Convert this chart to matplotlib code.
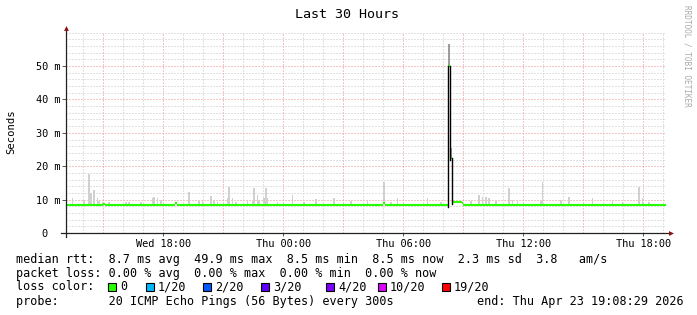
import matplotlib
matplotlib.use("Agg")
import matplotlib.pyplot as plt
import matplotlib.dates as mdates
from matplotlib.patches import Rectangle
import pandas as pd
import numpy as np

# ---------------- data ----------------
start_time = "2026-04-22 13:08:29"
end_time = "2026-04-23 19:08:29"

# median RTT (ms) as step function: value holds from each time to the next
median_times = ["2026-04-22 13:05", "2026-04-22 15:00", "2026-04-22 15:05",
                "2026-04-22 18:35", "2026-04-22 18:40", "2026-04-23 05:00",
                "2026-04-23 05:05", "2026-04-23 08:15", "2026-04-23 08:20",
                "2026-04-23 08:25", "2026-04-23 08:55", "2026-04-23 09:00"]
median_ms = [8.5, 8.8, 8.5, 9.0, 8.5, 8.9, 8.5, 49.9, 22.5, 9.2, 8.9, 8.5]

# smoke (max ping, ms) spikes
smoke_times = ["2026-04-22 13:25", "2026-04-22 14:00", "2026-04-22 14:15", "2026-04-22 14:20",
               "2026-04-22 14:30", "2026-04-22 14:40", "2026-04-22 14:45", "2026-04-22 14:55",
               "2026-04-22 15:15", "2026-04-22 16:05", "2026-04-22 16:15", "2026-04-22 16:50",
               "2026-04-22 17:25", "2026-04-22 17:30", "2026-04-22 17:40", "2026-04-22 17:50",
               "2026-04-22 19:15", "2026-04-22 19:45", "2026-04-22 19:55", "2026-04-22 20:20",
               "2026-04-22 20:30", "2026-04-22 20:40", "2026-04-22 21:10", "2026-04-22 21:15",
               "2026-04-22 21:25", "2026-04-22 21:35", "2026-04-22 22:10", "2026-04-22 22:25",
               "2026-04-22 22:30", "2026-04-22 22:40", "2026-04-22 22:45", "2026-04-22 23:00",
               "2026-04-22 23:05", "2026-04-22 23:10", "2026-04-22 23:40", "2026-04-23 00:25",
               "2026-04-23 01:00", "2026-04-23 01:35", "2026-04-23 02:30", "2026-04-23 03:20",
               "2026-04-23 04:10", "2026-04-23 05:00", "2026-04-23 05:20", "2026-04-23 05:40",
               "2026-04-23 07:10", "2026-04-23 07:50", "2026-04-23 08:15", "2026-04-23 08:20",
               "2026-04-23 09:20", "2026-04-23 09:45", "2026-04-23 09:55", "2026-04-23 10:05",
               "2026-04-23 10:15", "2026-04-23 10:35", "2026-04-23 11:15", "2026-04-23 11:25",
               "2026-04-23 11:40", "2026-04-23 12:50", "2026-04-23 12:55", "2026-04-23 13:50",
               "2026-04-23 14:15", "2026-04-23 15:25", "2026-04-23 16:25", "2026-04-23 16:55",
               "2026-04-23 17:45", "2026-04-23 17:55", "2026-04-23 18:15"]
smoke_top_ms = [10.4, 10.0, 17.7, 12.0,
                12.9, 10.4, 9.6, 9.4,
                9.2, 9.2, 9.2, 9.2,
                10.4, 10.9, 10.4, 10.0,
                12.4, 9.6, 10.0, 11.1,
                9.5, 9.3, 10.4, 13.9,
                10.4, 9.2, 9.6, 9.6,
                13.6, 11.3, 9.6, 10.6,
                13.6, 10.4, 9.3, 11.4,
                9.2, 10.1, 10.6, 9.5,
                9.5, 15.2, 9.4, 10.4,
                10.6, 9.3, 56.5, 25.4,
                9.5, 11.4, 10.8, 10.8,
                10.4, 9.6, 13.6, 10.0,
                9.5, 9.5, 15.2, 10.0,
                10.8, 10.6, 9.5, 9.3,
                13.9, 10.4, 9.4]

y_ticks_ms = [0, 10, 20, 30, 40, 50]
y_tick_labels = ["0  ", "10 m", "20 m", "30 m", "40 m", "50 m"]

stats_lines = [
    "median rtt:  8.7 ms avg  49.9 ms max  8.5 ms min  8.5 ms now  2.3 ms sd  3.8   am/s",
    "packet loss: 0.00 % avg  0.00 % max  0.00 % min  0.00 % now",
]
loss_labels = ["0", "1/20", "2/20", "3/20", "4/20", "10/20", "19/20"]
loss_colors = ["#26ff00", "#00b8ff", "#0059ff", "#5e00ff", "#7e00ff", "#dd00ff", "#ff0000"]
probe_text = "probe:       20 ICMP Echo Pings (56 Bytes) every 300s"
end_text = "end: Thu Apr 23 19:08:29 2026"
title = "Last 30 Hours"

# ---------------- figure ----------------
W, H = 697, 315
fig = plt.figure(figsize=(W / 100, H / 100), dpi=100)
fig.patch.set_facecolor("white")
mono = "DejaVu Sans Mono"

ax_l, ax_r, ax_b, ax_t = 66, 666, 233, 32
ax = fig.add_axes([ax_l / W, 1 - ax_b / H, (ax_r - ax_l) / W, (ax_b - ax_t) / H])
ax.set_facecolor("white")

t0 = pd.Timestamp(start_time)
t1 = pd.Timestamp(end_time)
ax.set_xlim(t0, t1)
ax.set_ylim(0, 0.0602)

# grid
grey = "#c4c4c4"
red = "#e88c8c"
dot = (0, (1, 2))
for h in pd.date_range("2026-04-22 14:00", "2026-04-23 19:00", freq="1h"):
    c = red if h.hour % 3 == 0 else grey
    ax.axvline(h, color=c, lw=0.72, ls=dot, zorder=0)
for v in range(2, 62, 2):
    c = red if v % 10 == 0 and v <= 50 else grey
    ax.axhline(v / 1000, color=c, lw=0.72, ls=dot, zorder=0)

# median step
mt = [pd.Timestamp(s) for s in median_times] + [t1 + pd.Timedelta(minutes=5)]
mv = np.array(median_ms) / 1000


def median_at(t):
    idx = 0
    for i in range(len(median_times)):
        if mt[i] <= t:
            idx = i
    return mv[idx]


# smoke
step = pd.Timedelta(minutes=5)
for s, top in zip(smoke_times, smoke_top_ms):
    t = pd.Timestamp(s)
    base = median_at(t)
    shade = "#9c9c9c" if base > 0.02 else "#d0d0d0"
    ax.bar(t, top / 1000 - base, bottom=base, width=step, align="edge",
           color=shade, lw=0, zorder=1)

# green median segments
for i in range(len(median_ms)):
    ax.plot([mt[i], mt[i + 1]], [mv[i], mv[i]], color="#26ff00", lw=1.5,
            solid_capstyle="butt", zorder=2)
# black transitions (only the big jumps are visible)
for i in range(1, len(median_ms)):
    if abs(mv[i] - mv[i - 1]) > 0.005:
        ax.plot([mt[i], mt[i]], [min(mv[i - 1], mv[i]) - 0.0006, max(mv[i - 1], mv[i])],
                color="black", lw=1.0, zorder=3)

# axes
for sp in ax.spines.values():
    sp.set_visible(False)
ax.plot([-0.008, 1.006], [0, 0], transform=ax.transAxes, color="#222222", lw=0.9,
        clip_on=False, zorder=5)
ax.plot([0, 0], [-0.02, 1.01], transform=ax.transAxes, color="#222222", lw=0.9,
        clip_on=False, zorder=5)
ax.plot([1.009], [0], marker=">", ms=3.5, color="#8b1010", transform=ax.transAxes,
        clip_on=False, zorder=6, mew=0)
ax.plot([0], [1.022], marker="^", ms=3.5, color="#8b1010", transform=ax.transAxes,
        clip_on=False, zorder=6, mew=0)

ax.set_yticks([v / 1000 for v in y_ticks_ms])
ax.set_yticklabels(y_tick_labels, fontfamily=mono, fontsize=7.4)
ax.xaxis.set_major_locator(mdates.HourLocator(byhour=[0, 6, 12, 18]))
ax.xaxis.set_major_formatter(mdates.DateFormatter("%a %H:%M"))
for lab in ax.get_xticklabels():
    lab.set_fontfamily(mono)
ax.tick_params(axis="x", labelsize=7.4, length=2, width=0.7, color="#555555", pad=2)
ax.tick_params(axis="y", labelsize=7.4, length=3, width=0.7, color="#555555", pad=0.8)

# titles
fig.text(347 / W, 1 - 14 / H, title, ha="center", va="center", fontfamily=mono, fontsize=9.6)
fig.text(11 / W, 1 - 132 / H, "Seconds", ha="center", va="center", rotation=90,
         fontfamily=mono, fontsize=7.6)
fig.text(687 / W, 1 - 5 / H, "RRDTOOL / TOBI OETIKER", ha="center", va="top", rotation=270,
         fontfamily=mono, fontsize=5.6, color="#aaaaaa")

# legend text
fs = 8.5
fig.text(16 / W, 1 - 259 / H, stats_lines[0], ha="left", va="center", fontfamily=mono, fontsize=fs)
fig.text(16 / W, 1 - 273 / H, stats_lines[1], ha="left", va="center", fontfamily=mono, fontsize=fs)
fig.text(16 / W, 1 - 287 / H, "loss color:", ha="left", va="center", fontfamily=mono, fontsize=fs)
box_x = [108, 146, 203, 261, 326, 378, 442]
for bx, lab, col in zip(box_x, loss_labels, loss_colors):
    fig.patches.append(Rectangle((bx / W, 1 - 291 / H), 8 / W, 8 / H, transform=fig.transFigure,
                                 facecolor=col, edgecolor="black", lw=0.8))
    fig.text((bx + 12) / W, 1 - 287 / H, lab, ha="left", va="center", fontfamily=mono, fontsize=fs)
fig.text(16 / W, 1 - 301 / H, probe_text, ha="left", va="center", fontfamily=mono, fontsize=fs)
fig.text(477 / W, 1 - 301 / H, end_text, ha="left", va="center", fontfamily=mono, fontsize=fs)

fig.savefig("out.png", dpi=100, facecolor="white")
